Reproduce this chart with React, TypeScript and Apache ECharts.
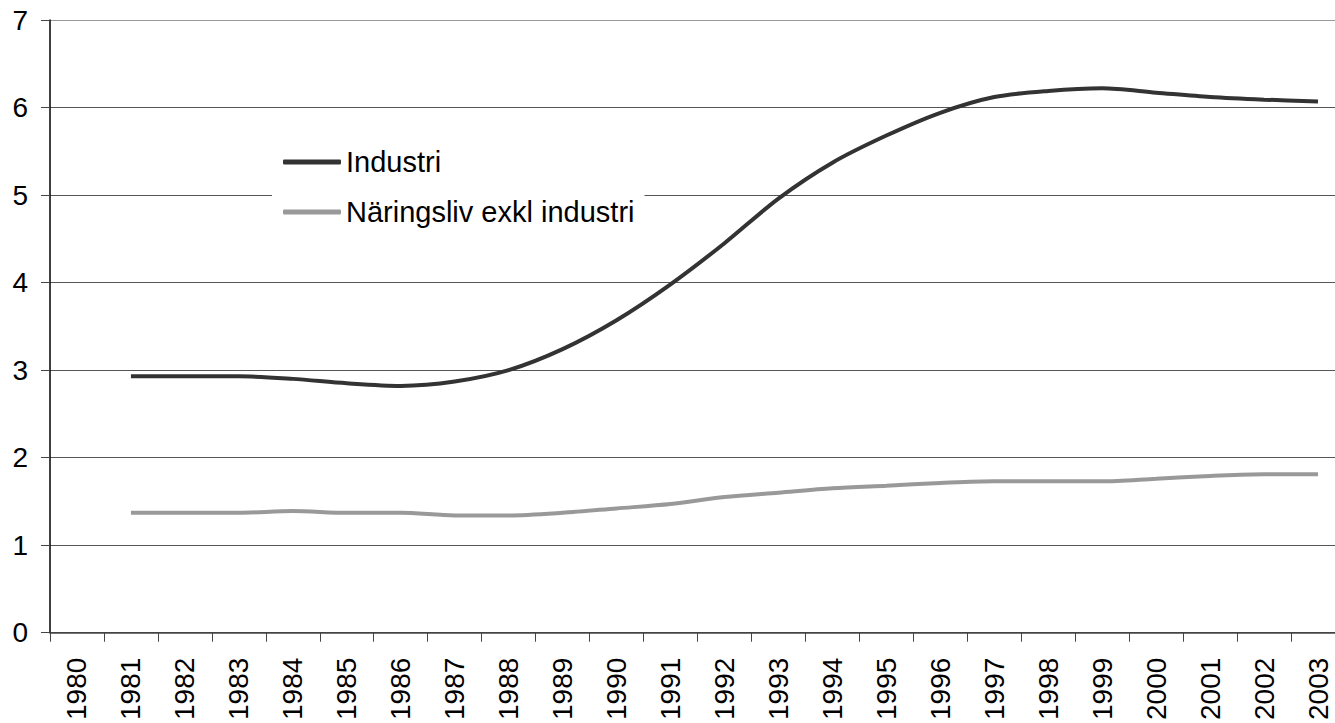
import React, { useEffect, useRef } from "react";
import * as echarts from "echarts";

const years = ["1980","1981","1982","1983","1984","1985","1986","1987","1988","1989","1990","1991","1992","1993","1994","1995","1996","1997","1998","1999","2000","2001","2002","2003"];
const industri = [null, 2.93, 2.93, 2.93, 2.9, 2.85, 2.82, 2.87, 3.0, 3.24, 3.57, 3.98, 4.45, 4.96, 5.37, 5.68, 5.94, 6.12, 6.19, 6.22, 6.17, 6.12, 6.09, 6.07];
const naringsliv = [null, 1.37, 1.37, 1.37, 1.39, 1.37, 1.37, 1.34, 1.34, 1.37, 1.42, 1.47, 1.55, 1.6, 1.65, 1.68, 1.71, 1.73, 1.73, 1.73, 1.76, 1.79, 1.81, 1.81];
const seriesNames = ["Industri", "Näringsliv exkl industri"];

const FONT = "'Liberation Sans', Arial, sans-serif";

export default function App() {
  const ref = useRef<HTMLDivElement>(null);
  useEffect(() => {
    const chart = echarts.init(ref.current!, null, { renderer: "svg" });
    chart.setOption({
      animation: false,
      backgroundColor: "#ffffff",
      grid: { left: 50, top: 20, right: 0, bottom: 90, containLabel: false },
      legend: {
        orient: "vertical",
        left: 272,
        top: 136,
        backgroundColor: "#ffffff",
        padding: [10, 10, 10, 11],
        itemGap: 18,
        itemWidth: 58,
        itemHeight: 5,
        icon: "roundRect",
        textStyle: { fontFamily: FONT, fontSize: 29, color: "#000", lineHeight: 32 },
        data: seriesNames,
      },
      xAxis: {
        type: "category",
        data: years,
        boundaryGap: true,
        axisLine: { lineStyle: { color: "#444", width: 1.5 } },
        axisTick: { show: true, length: 9, lineStyle: { color: "#444" } },
        axisLabel: { rotate: 90, margin: 25, fontSize: 28, color: "#000", fontFamily: FONT, interval: 0 },
        splitLine: { show: false },
      },
      yAxis: {
        type: "value",
        min: 0,
        max: 7,
        interval: 1,
        axisLine: { show: true, lineStyle: { color: "#000", width: 1.5 } },
        axisTick: { show: true, length: 9, lineStyle: { color: "#444" } },
        axisLabel: { margin: 22, fontSize: 28, color: "#000", fontFamily: FONT },
        splitLine: {
          show: true,
          lineStyle: { color: ["#444", "#555", "#555", "#555", "#555", "#555", "#555", "#999"], width: 1 },
        },
      },
      series: [
        {
          name: seriesNames[0],
          type: "line",
          data: industri,
          smooth: 0.3,
          symbol: "none",
          lineStyle: { color: "#333333", width: 4 },
          itemStyle: { color: "#333333" },
          z: 3,
        },
        {
          name: seriesNames[1],
          type: "line",
          data: naringsliv,
          smooth: 0.3,
          symbol: "none",
          lineStyle: { color: "#999999", width: 4 },
          itemStyle: { color: "#999999" },
          z: 3,
        },
      ],
    });
    return () => chart.dispose();
  }, []);
  return (
    <div style={{ position: "absolute", left: 0, top: 0, width: 1335, height: 723, overflow: "hidden" }}>
      <div ref={ref} style={{ width: 1345, height: 723 }} />
    </div>
  );
}
